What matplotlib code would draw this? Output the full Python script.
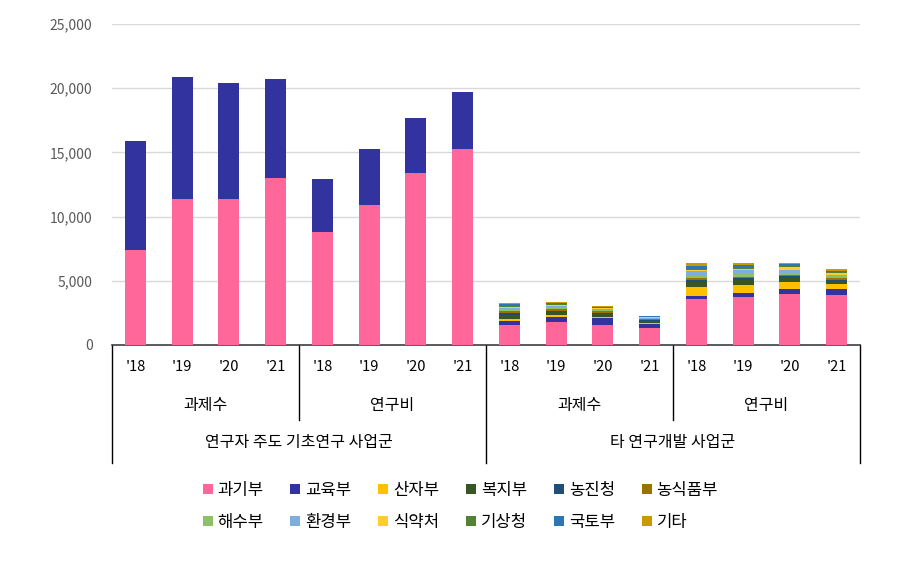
import matplotlib
matplotlib.use("Agg")
import matplotlib.pyplot as plt
import numpy as np

plt.rcParams['font.family'] = ['Noto Sans CJK KR', 'DejaVu Sans']

years = ["'18", "'19", "'20", "'21"] * 4
sub_labels = ["과제수", "연구비", "과제수", "연구비"]
group_labels = ["연구자 주도 기초연구 사업군", "타 연구개발 사업군"]

series_names = ["과기부", "교육부", "산자부", "복지부", "농진청", "농식품부",
                "해수부", "환경부", "식약처", "기상청", "국토부", "기타"]
colors = ["#FF6699", "#3333A0", "#FFC000", "#375623", "#1F4E79", "#997300",
          "#8CC168", "#7EAEDD", "#FFCD33", "#548235", "#2E75B6", "#C99A00"]

과기부 = [7400, 11400, 11400, 13000, 8800, 10900, 13400, 15300,
         1560, 1770, 1560, 1350, 3560, 3760, 3970, 3890]
교육부 = [8500, 9450, 9000, 7700, 4100, 4350, 4300, 4400,
         300, 430, 570, 260, 230, 260, 390, 470]
산자부 = [0, 0, 0, 0, 0, 0, 0, 0, 200, 100, 80, 130, 750, 650, 520, 390]
복지부 = [0, 0, 0, 0, 0, 0, 0, 0, 250, 250, 200, 120, 390, 390, 360, 250]
농진청 = [0, 0, 0, 0, 0, 0, 0, 0, 220, 80, 100, 100, 150, 150, 100, 100]
농식품부 = [0, 0, 0, 0, 0, 0, 0, 0, 120, 200, 120, 60, 100, 100, 100, 100]
해수부 = [0, 0, 0, 0, 0, 0, 0, 0, 150, 100, 80, 40, 200, 250, 200, 150]
환경부 = [0, 0, 0, 0, 0, 0, 0, 0, 80, 100, 60, 40, 350, 250, 200, 100]
식약처 = [0, 0, 0, 0, 0, 0, 0, 0, 100, 80, 100, 50, 100, 100, 200, 150]
기상청 = [0, 0, 0, 0, 0, 0, 0, 0, 90, 80, 60, 40, 100, 150, 100, 100]
국토부 = [0, 0, 0, 0, 0, 0, 0, 0, 120, 80, 60, 40, 260, 180, 150, 100]
기타 = [0, 0, 0, 0, 0, 0, 0, 0, 80, 60, 50, 30, 200, 150, 100, 100]

series = [과기부, 교육부, 산자부, 복지부, 농진청, 농식품부, 해수부, 환경부, 식약처, 기상청, 국토부, 기타]

fig = plt.figure(figsize=(8.99, 5.65), dpi=100)
ax = fig.add_axes([112/899, 1-345/565, 748/899, 321/565])

x = np.arange(len(years))
bottom = np.zeros(len(years))
handles = []
for name, vals, c in zip(series_names, series, colors):
    v = np.array(vals, dtype=float)
    b = ax.bar(x, v, 0.45, bottom=bottom, color=c, label=name, zorder=3)
    handles.append(b)
    bottom += v

ax.set_xlim(-0.5, len(years) - 0.5)
ax.set_ylim(0, 25000)
ax.set_yticks(np.arange(0, 25001, 5000))
ax.set_yticklabels([f"{v:,}" for v in range(0, 25001, 5000)], color="#595959", fontsize=10)
ax.tick_params(axis='y', length=0, pad=14)
ax.yaxis.grid(True, color="#D9D9D9", linewidth=1, zorder=0)
for s in ["top", "right", "left"]:
    ax.spines[s].set_visible(False)
ax.spines["bottom"].set_color("#404040")
ax.spines["bottom"].set_linewidth(1.2)
ax.set_xticks([])

tr = ax.get_xaxis_transform()
for i, lab in enumerate(years):
    ax.text(i, -0.068, lab, transform=tr, ha='center', va='center', fontsize=10.5, color="#000000")
for j, lab in enumerate(sub_labels):
    ax.text(j*4 + 1.5, -0.187, lab, transform=tr, ha='center', va='center', fontsize=11.5, color="#000000")
for k, lab in enumerate(group_labels):
    ax.text(k*8 + 3.5, -0.305, lab, transform=tr, ha='center', va='center', fontsize=11.5, color="#000000")

for xb in [-0.5, 7.5, 15.5]:
    ax.plot([xb, xb], [0, -0.368], transform=tr, color="#000000", lw=1, clip_on=False)
for xb in [3.5, 11.5]:
    ax.plot([xb, xb], [0, -0.234], transform=tr, color="#000000", lw=1, clip_on=False)

# row-major legend order
order = []
for c in range(6):
    order += [c, c + 6]
fig.legend(handles=[handles[i] for i in order], labels=[series_names[i] for i in order],
           loc='center', bbox_to_anchor=(0.512, 0.104),
           ncol=6, frameon=False, fontsize=12, handlelength=0.6, handleheight=0.6,
           handletextpad=0.3, columnspacing=1.6, labelspacing=0.9)

fig.savefig("out.png", dpi=100)
